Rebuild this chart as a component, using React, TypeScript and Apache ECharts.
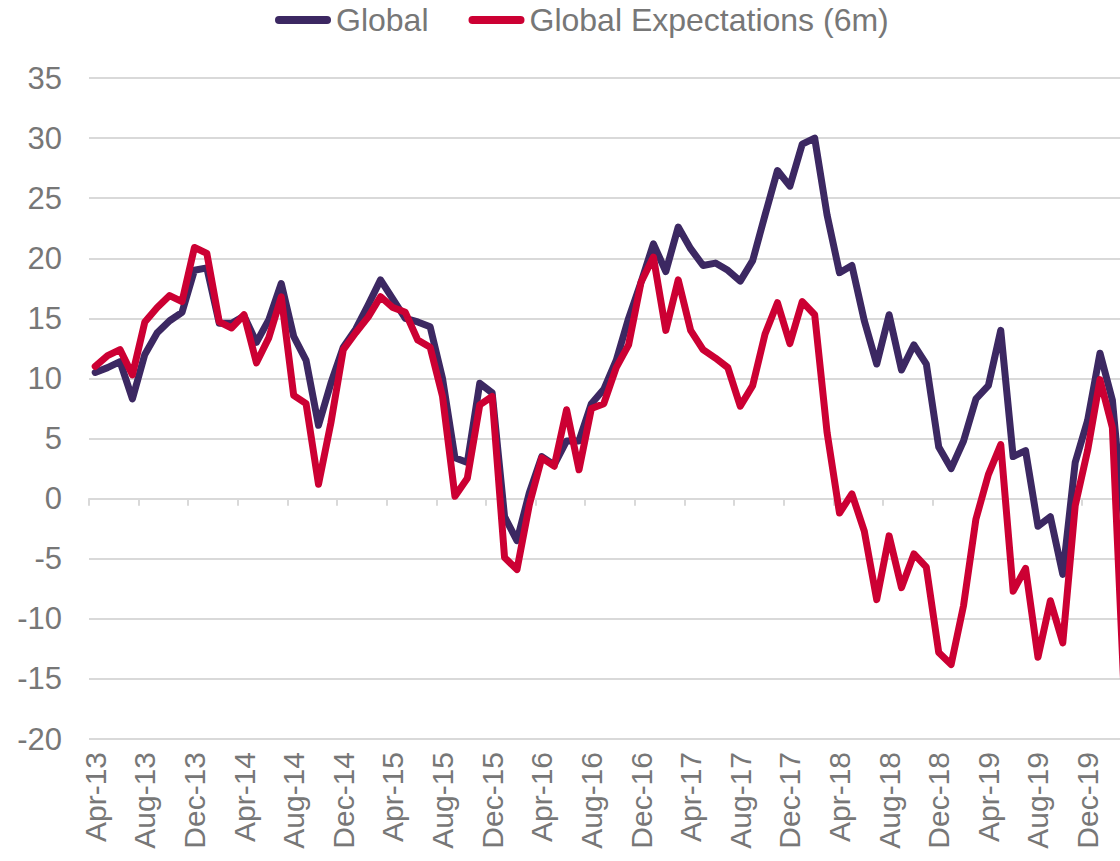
import React, { useEffect, useRef } from "react";
import * as echarts from "echarts";

const months: string[] = [
  "Apr-13","May-13","Jun-13","Jul-13","Aug-13","Sep-13","Oct-13","Nov-13","Dec-13",
  "Jan-14","Feb-14","Mar-14","Apr-14","May-14","Jun-14","Jul-14","Aug-14","Sep-14","Oct-14","Nov-14","Dec-14",
  "Jan-15","Feb-15","Mar-15","Apr-15","May-15","Jun-15","Jul-15","Aug-15","Sep-15","Oct-15","Nov-15","Dec-15",
  "Jan-16","Feb-16","Mar-16","Apr-16","May-16","Jun-16","Jul-16","Aug-16","Sep-16","Oct-16","Nov-16","Dec-16",
  "Jan-17","Feb-17","Mar-17","Apr-17","May-17","Jun-17","Jul-17","Aug-17","Sep-17","Oct-17","Nov-17","Dec-17",
  "Jan-18","Feb-18","Mar-18","Apr-18","May-18","Jun-18","Jul-18","Aug-18","Sep-18","Oct-18","Nov-18","Dec-18",
  "Jan-19","Feb-19","Mar-19","Apr-19","May-19","Jun-19","Jul-19","Aug-19","Sep-19","Oct-19","Nov-19","Dec-19",
  "Jan-20","Feb-20","Mar-20",
];

const globalValues: number[] = [
  10.5, 10.9, 11.4, 8.3, 12.0, 13.8, 14.8, 15.5, 19.0,
  19.2, 14.6, 14.6, 15.2, 13.0, 14.9, 17.9, 13.5, 11.5, 6.1, 9.6, 12.6,
  14.1, 16.1, 18.2, 16.6, 15.0, 14.7, 14.3, 10.0, 3.4, 3.0, 9.6, 8.8,
  -1.5, -3.5, 0.5, 3.5, 2.8, 4.8, 4.8, 7.9, 9.1, 11.5, 15.0, 18.0,
  21.2, 18.9, 22.6, 20.8, 19.4, 19.6, 19.0, 18.1, 19.8, 23.6, 27.3, 26.0,
  29.5, 30.0, 23.6, 18.8, 19.4, 14.8, 11.2, 15.3, 10.7, 12.8, 11.2, 4.3,
  2.5, 4.8, 8.3, 9.4, 14.0, 3.5, 4.0, -2.3, -1.5, -6.3, 3.0, 6.5,
  12.1, 8.2, -3.0,
];

const expectationValues: number[] = [
  11.0, 11.9, 12.4, 10.3, 14.7, 15.9, 16.9, 16.4, 20.9,
  20.4, 14.7, 14.2, 15.3, 11.3, 13.4, 16.8, 8.6, 7.9, 1.2, 6.3, 12.4,
  13.8, 15.1, 16.8, 15.9, 15.5, 13.2, 12.6, 8.5, 0.2, 1.7, 7.8, 8.5,
  -4.9, -5.9, -0.5, 3.4, 2.7, 7.4, 2.4, 7.5, 7.9, 10.9, 12.8, 18.0,
  20.1, 14.0, 18.2, 14.0, 12.4, 11.7, 10.9, 7.7, 9.4, 13.7, 16.3, 12.9,
  16.4, 15.3, 5.5, -1.2, 0.4, -2.7, -8.4, -3.1, -7.4, -4.6, -5.7, -12.8,
  -13.8, -8.9, -1.7, 2.0, 4.5, -7.7, -5.8, -13.2, -8.5, -12.0, -0.6, 4.0,
  9.9, 5.9, -17.5,
];

const seriesNames: string[] = ["Global", "Global Expectations (6m)"];
const seriesColors: string[] = ["#3C2862", "#CC0033"];

const FONT = "'Liberation Sans', Arial, sans-serif";
const TEXT_COLOR = "#777777";
const GRID_COLOR = "#d9d9d9";

export default function App() {
  const ref = useRef<HTMLDivElement>(null);

  useEffect(() => {
    if (!ref.current) return;
    const chart = echarts.init(ref.current, undefined, { renderer: "svg" });
    const legendIcon = "path://M4,0L52,0A4,4,0,0,1,52,8L4,8A4,4,0,0,1,4,0Z";
    chart.setOption({
      animation: false,
      textStyle: { fontFamily: FONT },
      legend: {
        left: 270,
        top: -1,
        itemWidth: 56,
        itemHeight: 8,
        itemGap: 40,
        icon: legendIcon,
        textStyle: { fontSize: 32, color: TEXT_COLOR, fontFamily: FONT },
        data: seriesNames,
      },
      grid: { left: 89, right: 30, top: 78, bottom: 122, containLabel: false },
      xAxis: [
        {
          type: "category",
          data: months,
          boundaryGap: true,
          position: "bottom",
          axisLine: { show: true, onZero: true, lineStyle: { color: GRID_COLOR, width: 2 } },
          axisTick: { show: true, interval: 3, length: 7, lineStyle: { color: GRID_COLOR, width: 2 } },
          axisLabel: { show: false },
          splitLine: { show: false },
        },
        {
          type: "category",
          data: months,
          boundaryGap: true,
          position: "bottom",
          axisLine: { show: false, onZero: false },
          axisTick: { show: false },
          axisLabel: {
            show: true,
            interval: 3,
            rotate: 90,
            margin: 13,
            fontSize: 30,
            color: TEXT_COLOR,
            fontFamily: FONT,
          },
          splitLine: { show: false },
        },
      ],
      yAxis: {
        type: "value",
        min: -20,
        max: 35,
        interval: 5,
        axisLine: { show: false },
        axisTick: { show: false },
        axisLabel: { fontSize: 31, color: TEXT_COLOR, margin: 27, fontFamily: FONT },
        splitLine: { show: true, lineStyle: { color: GRID_COLOR, width: 2 } },
      },
      series: [
        {
          name: seriesNames[0],
          type: "line",
          xAxisIndex: 0,
          data: globalValues,
          symbol: "none",
          color: seriesColors[0],
          lineStyle: { width: 7, color: seriesColors[0], cap: "round", join: "round" },
        },
        {
          name: seriesNames[1],
          type: "line",
          xAxisIndex: 0,
          data: expectationValues,
          symbol: "none",
          color: seriesColors[1],
          lineStyle: { width: 7, color: seriesColors[1], cap: "round", join: "round" },
        },
      ],
    });
    return () => chart.dispose();
  }, []);

  return (
    <div style={{ position: "absolute", left: 0, top: 0, width: 1120, height: 861, overflow: "hidden" }}>
      <div ref={ref} style={{ width: 1161, height: 861 }} />
    </div>
  );
}
